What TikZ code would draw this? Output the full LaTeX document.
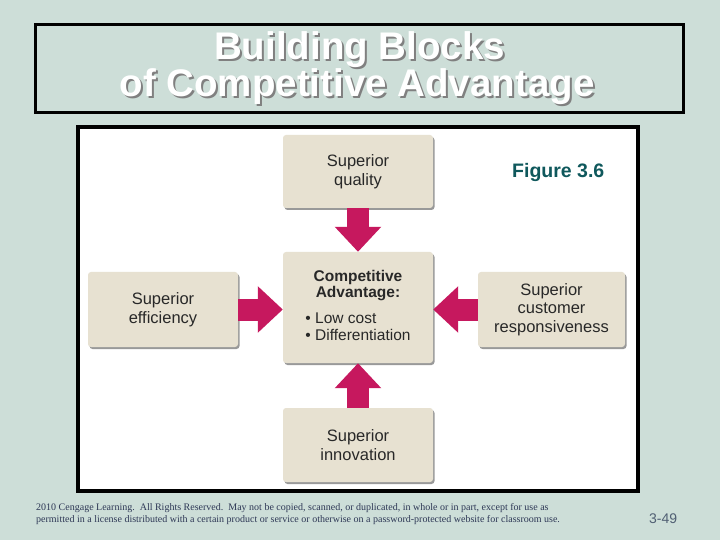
\documentclass[tikz,border=0pt]{standalone}
\usepackage{fontspec}
\setmainfont{Liberation Sans}
\newfontfamily\footfont{Liberation Serif}
\usetikzlibrary{arrows.meta,shadows}
\definecolor{bg}{RGB}{205,222,216}
\definecolor{boxfill}{RGB}{231,225,209}
\definecolor{arrowc}{RGB}{198,24,94}
\definecolor{figc}{RGB}{15,88,92}
\definecolor{boxtext}{RGB}{40,40,40}
\definecolor{footc}{RGB}{45,55,85}
\definecolor{pagec}{RGB}{80,95,115}
\begin{document}
\begin{tikzpicture}[x=1bp,y=-1bp,
  block/.style={fill=boxfill, rounded corners=3bp, align=center, text=boxtext, inner sep=0pt,
    font=\fontsize{16.5bp}{18.5bp}\selectfont,
    drop shadow={shadow xshift=1.5bp, shadow yshift=-2bp, fill=black, opacity=0.4}},
  bigarrow/.style={draw=arrowc, line width=22bp, -{Triangle[width=45bp,length=25bp]}},
  titletext/.style={font=\fontsize{38.5bp}{40bp}\selectfont\bfseries, anchor=base, inner sep=0pt},
  foottext/.style={font=\footfont\fontsize{10bp}{12bp}\selectfont, text=footc, anchor=base west, inner sep=0pt}
]
\useasboundingbox (0,0) rectangle (720,540);
\fill[bg] (0,0) rectangle (720,540);

% title
\node[draw, line width=3bp, minimum width=647bp, minimum height=88bp, inner sep=0pt] (titlebox) at (359.5,69) {};
\node[titletext, text=black!50] (t1s) at (361.5,62) {Building Blocks};
\node[titletext, text=black!50] (t2s) at (359,99) {of Competitive Advantage};
\node[titletext, text=white] (t1) at (359.5,60) {Building Blocks};
\node[titletext, text=white] (t2) at (357,97) {of Competitive Advantage};

% figure frame
\node[draw, fill=white, line width=3.5bp, minimum width=560bp, minimum height=364bp, inner sep=0pt] (frame) at (358,309) {};

\node[font=\fontsize{19.5bp}{22bp}\selectfont\bfseries, text=figc, anchor=base west, inner sep=0pt] (fig) at (512,178) {Figure 3.6};

% blocks
\node[block, minimum width=150bp, minimum height=73bp] (q) at (358,171.5) {Superior\\quality};
\node[block, minimum width=150bp, minimum height=111bp, font=\fontsize{15.5bp}{16.5bp}\selectfont] (ca) at (358,307.5)
  {{\bfseries Competitive}\\{\bfseries Advantage:}\\[10bp]\begin{tabular}{@{}l@{}}\textbullet\ Low cost\\\textbullet\ Differentiation\end{tabular}};
\node[block, minimum width=150bp, minimum height=75bp] (eff) at (163,309.5) {Superior\\efficiency};
\node[block, minimum width=147bp, minimum height=75bp] (cust) at (551.5,309.5) {Superior\\customer\\responsiveness};
\node[block, minimum width=150bp, minimum height=74bp] (inn) at (358,445) {Superior\\innovation};

% arrows
\draw[bigarrow] (q.south) -- (q.south |- ca.north);
\draw[bigarrow] (inn.north) -- (inn.north |- ca.south);
\draw[bigarrow] (eff.east) -- (eff.east -| ca.west);
\draw[bigarrow] (cust.west) -- (cust.west -| ca.east);

% footer
\node[foottext] (f1) at (36,510) {2010 Cengage Learning.\ \ All Rights Reserved.\ \ May not be copied, scanned, or duplicated, in whole or in part, except for use as};
\node[foottext] (f2) at (36,522) {permitted in a license distributed with a certain product or service or otherwise on a password-protected website for classroom use.};
\node[font=\fontsize{14bp}{16bp}\selectfont, text=pagec, anchor=base west, inner sep=0pt] (page) at (649,523) {3-49};
\end{tikzpicture}
\end{document}
